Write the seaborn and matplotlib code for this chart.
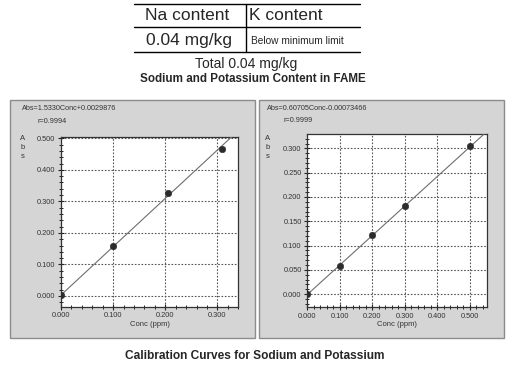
import numpy as np
import pandas as pd
import seaborn as sns
import matplotlib.pyplot as plt
from matplotlib.patches import Rectangle
from matplotlib.lines import Line2D
from matplotlib.ticker import MultipleLocator

# table values
table_head = ['Na content', 'K content']
table_vals = ['0.04 mg/kg', 'Below minimum limit']
total_text = 'Total 0.04 mg/kg'

# sodium calibration
na_conc = [0.0, 0.1, 0.205, 0.308]
na_abs = [0.003, 0.157, 0.325, 0.465]
na_slope, na_icpt = 1.5330, 0.0029876
na_eq = 'Abs=1.5330Conc+0.0029876'
na_r = 'r=0.9994'

# potassium calibration
k_conc = [0.0, 0.1, 0.2, 0.3, 0.5]
k_abs = [0.0, 0.059, 0.121, 0.182, 0.305]
k_slope, k_icpt = 0.60705, -0.00073466
k_eq = 'Abs=0.60705Conc-0.00073466'
k_r = 'r=0.9999'

sns.set_style('white')
plt.rcParams['font.family'] = ['Liberation Sans', 'DejaVu Sans']

W, H = 510, 366
fig = plt.figure(figsize=(W / 100, H / 100), dpi=100)


def fx(x):
    return x / W


def fy(y):
    return 1 - y / H


# --- table at top ---
for yy in [3.5, 27, 52]:
    fig.add_artist(Line2D([fx(134), fx(360)], [fy(yy), fy(yy)], color='black', lw=1))
fig.add_artist(Line2D([fx(246.5), fx(246.5)], [fy(3.5), fy(52)], color='black', lw=1))
fig.text(fx(145), fy(16), table_head[0], fontsize=12.5, va='center')
fig.text(fx(249.5), fy(16), table_head[1], fontsize=12.5, va='center')
fig.text(fx(146), fy(40.5), table_vals[0], fontsize=12.5, va='center')
fig.text(fx(251.5), fy(41.5), table_vals[1], fontsize=7.3, va='center')
fig.text(fx(246), fy(64), total_text, fontsize=10, ha='center', va='center')
fig.text(fx(252.5), fy(79), 'Sodium and Potassium Content in FAME', fontsize=8.4,
         fontweight='bold', ha='center', va='center')
fig.text(fx(255), fy(356), 'Calibration Curves for Sodium and Potassium', fontsize=8.6,
         fontweight='bold', ha='center', va='center')

# --- grey window panels ---
for px in [10, 259]:
    fig.add_artist(Rectangle((fx(px), fy(338)), fx(245), 238 / H, transform=fig.transFigure,
                             facecolor='#d5d5d5', edgecolor='#8c8c8c', lw=1, zorder=0))


def calib_panel(rect, conc, absb, slope, icpt, xlim, ylim, xmaj, ymaj, xmin, ymin,
                eq, r, eq_xy, letters_x):
    ax = fig.add_axes(rect)
    ax.set_facecolor('white')
    df = pd.DataFrame({'Conc': conc, 'Abs': absb})
    fit_x = np.array(xlim)
    fit = pd.DataFrame({'Conc': fit_x, 'Abs': slope * fit_x + icpt})
    sns.lineplot(data=fit, x='Conc', y='Abs', ax=ax, color='#6e6e6e', lw=0.8, zorder=3)
    sns.scatterplot(data=df, x='Conc', y='Abs', ax=ax, color='#2b2b2b', s=22,
                    marker='o', edgecolor='#2b2b2b', zorder=4)
    ax.set_xlim(*xlim)
    ax.set_ylim(*ylim)
    ax.xaxis.set_major_locator(MultipleLocator(xmaj))
    ax.yaxis.set_major_locator(MultipleLocator(ymaj))
    ax.xaxis.set_minor_locator(MultipleLocator(xmin))
    ax.yaxis.set_minor_locator(MultipleLocator(ymin))
    ax.xaxis.set_major_formatter(lambda v, p: f'{v:.3f}')
    ax.yaxis.set_major_formatter(lambda v, p: f'{v:.3f}')
    ax.tick_params(which='major', direction='inout', length=5, width=0.8, color='#222222',
                   labelsize=5.3, labelcolor='#333333', pad=1.5, bottom=True, left=True)
    ax.tick_params(which='minor', direction='inout', length=3, width=0.7, color='#222222',
                   bottom=True, left=True)
    ax.grid(True, which='major', linestyle=(0, (1.5, 1.5)), color='#555555', lw=0.8)
    for s in ax.spines.values():
        s.set_color('#333333')
        s.set_linewidth(0.9)
    ax.set_xlabel('Conc (ppm)', fontsize=5.5, color='#333333', labelpad=1)
    ax.set_ylabel('')
    fig.text(fx(eq_xy[0]), fy(eq_xy[1]), eq, fontsize=5.2, color='#333333', va='center')
    fig.text(fx(eq_xy[0] + 16), fy(eq_xy[1] + 13), r, fontsize=5.2, color='#333333', va='center')
    for i, ch in enumerate('Abs'):
        fig.text(fx(letters_x), fy(138 + 9.5 * i), ch, fontsize=5.5, color='#333333',
                 ha='center', va='center')
    return ax


calib_panel([fx(61), fy(306.7), fx(177.3), 170 / H], na_conc, na_abs, na_slope, na_icpt,
            (0.0, 0.34), (-0.034, 0.505), 0.1, 0.1, 0.02, 0.02,
            na_eq, na_r, (22, 108.5), 23)
calib_panel([fx(307.3), fy(307.3), fx(180), 173 / H], k_conc, k_abs, k_slope, k_icpt,
            (0.0, 0.554), (-0.027, 0.329), 0.1, 0.05, 0.02, 0.01,
            k_eq, k_r, (267, 108), 268)

fig.savefig('out.png', dpi=100)
